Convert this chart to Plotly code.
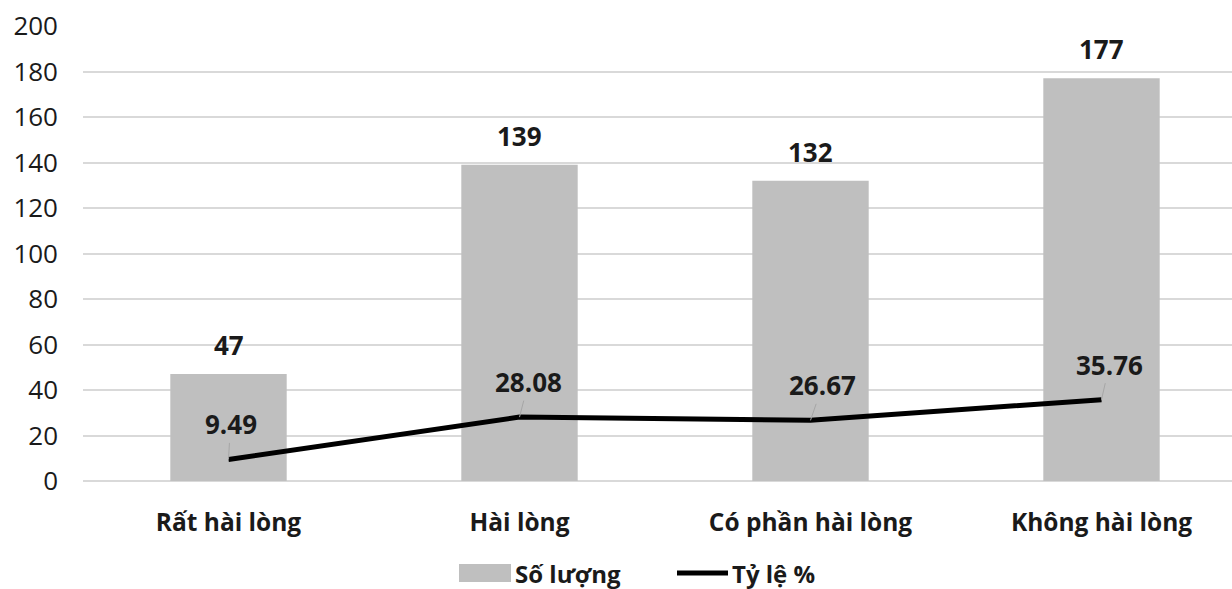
import plotly.graph_objects as go

# Survey results: satisfaction level counts and their percentage share
categories = ["Rất hài lòng", "Hài lòng", "Có phần hài lòng", "Không hài lòng"]
counts = [47, 139, 132, 177]
percents = [9.49, 28.08, 26.67, 35.76]
y_ticks = [0, 20, 40, 60, 80, 100, 120, 140, 160, 180, 200]

FONT = "Open Sans"
TEXT = "#1a1a1a"
BAR = "#bfbfbf"
GRID = "#d9d9d9"

# plot area in pixels, used to place the legend below it
PLOT_L, PLOT_W = 83, 1149
PLOT_B, PLOT_H = 481, 455


def px_x(px):
    return (px - PLOT_L) / PLOT_W


def px_y(py):
    return (PLOT_B - py) / PLOT_H


fig = go.Figure()

fig.add_trace(go.Bar(
    x=categories, y=counts, name="Số lượng",
    marker=dict(color=BAR, line=dict(width=0)),
    width=0.4, showlegend=False, hoverinfo="x+y",
))

fig.add_trace(go.Scatter(
    x=categories, y=percents, name="Tỷ lệ %",
    mode="lines", line=dict(color="black", width=5),
    showlegend=False,
))

annotations = []
# value labels above the bars
for c, v in zip(categories, counts):
    annotations.append(dict(
        x=c, y=v, xref="x", yref="y", text=f"<b>{v}</b>",
        showarrow=False, yanchor="middle", yshift=29,
        font=dict(family=FONT, size=26, color=TEXT),
    ))

# percentage labels with short leader lines
label_dx = [2, 9, 12, 8]
for c, p, dx in zip(categories, percents, label_dx):
    annotations.append(dict(
        x=c, y=p, xref="x", yref="y", text=f"<b>{p:.2f}</b>",
        showarrow=True, arrowhead=0, arrowwidth=1, arrowcolor="#a6a6a6",
        ax=dx, ay=-35, standoff=0, borderpad=0,
        font=dict(family=FONT, size=26, color=TEXT),
    ))

# legend drawn at the bottom centre
LEG_Y = 573
annotations.append(dict(
    x=px_x(513), y=px_y(LEG_Y), xref="paper", yref="paper",
    text="<b>Số lượng</b>", showarrow=False, xanchor="left", yanchor="middle",
    font=dict(family=FONT, size=24, color=TEXT),
))
annotations.append(dict(
    x=px_x(730), y=px_y(LEG_Y), xref="paper", yref="paper",
    text="<b>Tỷ lệ %</b>", showarrow=False, xanchor="left", yanchor="middle",
    font=dict(family=FONT, size=24, color=TEXT),
))

shapes = [
    dict(type="rect", xref="paper", yref="paper",
         x0=px_x(459), x1=px_x(511), y0=px_y(LEG_Y + 9), y1=px_y(LEG_Y - 9),
         fillcolor=BAR, line=dict(width=0)),
    dict(type="line", xref="paper", yref="paper",
         x0=px_x(677), x1=px_x(728), y0=px_y(LEG_Y), y1=px_y(LEG_Y),
         line=dict(color="black", width=5)),
]

fig.update_layout(
    width=1232, height=589,
    margin=dict(l=PLOT_L, r=0, t=26, b=108),
    paper_bgcolor="white", plot_bgcolor="white",
    font=dict(family=FONT, size=24, color=TEXT),
    annotations=annotations, shapes=shapes,
    showlegend=False,
    xaxis=dict(
        range=[-0.5, -0.5 + PLOT_W / 291], showgrid=False, showline=False,
        zeroline=False, ticks="", tickfont=dict(family=FONT, size=24.5, color=TEXT),
        tickvals=categories, ticktext=[f"<b>{c}</b>" for c in categories],
        ticklabelstandoff=24,
    ),
    yaxis=dict(
        range=[0, 200], tickvals=y_ticks, showgrid=True, gridcolor=GRID,
        gridwidth=1.5, zeroline=True, zerolinecolor=GRID, zerolinewidth=1.5,
        showline=False, ticks="", tickfont=dict(family=FONT, size=26, color=TEXT),
        ticklabelstandoff=24,
    ),
)

fig.write_html("out.html")
